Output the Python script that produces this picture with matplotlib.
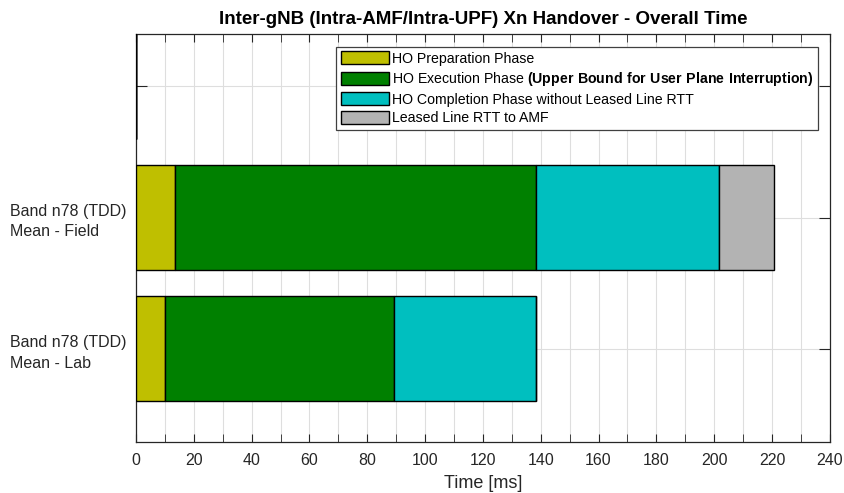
import numpy as np
import matplotlib.pyplot as plt
from matplotlib.ticker import MultipleLocator

plt.rcParams['font.family'] = ['Liberation Sans', 'DejaVu Sans']
plt.rcParams['mathtext.fontset'] = 'custom'
plt.rcParams['mathtext.rm'] = 'Liberation Sans'
plt.rcParams['mathtext.bf'] = 'Liberation Sans:bold'

# Mean durations per phase [ms]; the top row is an empty placeholder
categories = ['Band n78 (TDD)\nMean - Lab', 'Band n78 (TDD)\nMean - Field', '']
preparation = [10.0, 13.5, 0.0]
execution = [79.3, 124.8, 0.0]
completion = [48.9, 63.3, 0.0]
leased_rtt = [0.0, 19.0, 0.0]

phase_labels = [
    'HO Preparation Phase',
    r'HO Execution Phase $\bf{(Upper\ Bound\ for\ User\ Plane\ Interruption)}$',
    'HO Completion Phase without Leased Line RTT',
    'Leased Line RTT to AMF',
]
phase_colors = ['#bfbf00', '#008000', '#00bfbf', '#b3b3b3']
ink = '#262626'

fig = plt.figure(figsize=(8.45, 4.93), dpi=100)
ax = fig.add_axes([0.161, 0.104, 0.821, 0.827])

y = np.arange(1, len(categories) + 1)
left = np.zeros(len(categories))
for values, label, color in zip([preparation, execution, completion, leased_rtt],
                                phase_labels, phase_colors):
    ax.barh(y, values, left=left, height=0.8, color=color, edgecolor='black',
            linewidth=1.0, label=label, zorder=3)
    left += np.array(values)

ax.set_xlim(0, 240)
ax.set_ylim(0.29, 3.4)
ax.xaxis.set_major_locator(MultipleLocator(20))
ax.xaxis.set_minor_locator(MultipleLocator(10))
ax.set_yticks(y)
ax.set_yticklabels(categories, ha='left', linespacing=1.45)

ax.grid(True, which='both', axis='x', color='#dedede', linewidth=0.8, zorder=0)
ax.grid(True, which='major', axis='y', color='#dedede', linewidth=0.8, zorder=0)
ax.tick_params(which='both', direction='in', top=True, right=True, colors=ink,
               labelsize=11.5)
ax.tick_params(which='both', axis='x', length=6, pad=8)
ax.tick_params(axis='y', length=8, pad=90.5)
for spine in ax.spines.values():
    spine.set_color(ink)
    spine.set_linewidth(0.9)

ax.set_xlabel('Time [ms]', fontsize=13, color=ink, labelpad=5)
ax.set_title('Inter-gNB (Intra-AMF/Intra-UPF) Xn Handover - Overall Time',
             fontsize=13.5, fontweight='bold', color='black', pad=7)

leg = ax.legend(loc='upper right', bbox_to_anchor=(0.983, 0.968), fontsize=10.2,
                frameon=True, fancybox=False, framealpha=1, edgecolor='#404040',
                handlelength=3.4, handleheight=1.05, handletextpad=0.25,
                labelspacing=0.3, borderpad=0.3, borderaxespad=0)
leg.get_frame().set_linewidth(0.9)

fig.savefig('out.png', dpi=100)
